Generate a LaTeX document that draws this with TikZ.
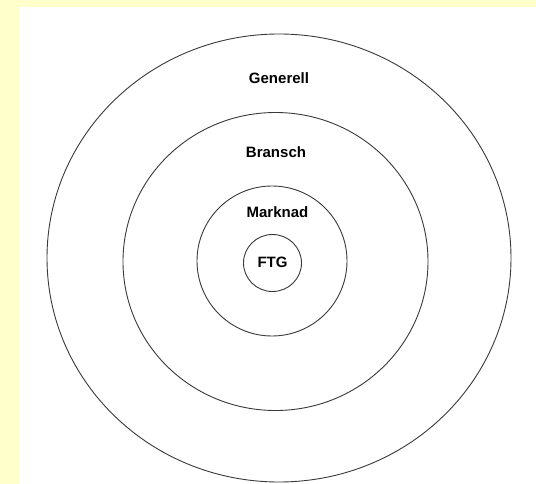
\documentclass[tikz,border=0pt]{standalone}
\usepackage{fontspec}
\setmainfont{Liberation Sans}
\definecolor{bgyellow}{HTML}{FFFFCC}
\definecolor{ringcol}{HTML}{3A3A3A}
\begin{document}
\begin{tikzpicture}[x=1pt,y=-1pt,
  ring/.style={draw=ringcol,line width=0.9pt},
  lbl/.style={font=\fontsize{15}{17}\selectfont\bfseries,inner sep=0pt}]
\useasboundingbox (0,0) rectangle (536,484);
\fill[bgyellow] (0,0) rectangle (536,484);
\fill[white] (19,7) rectangle (536,484);
\draw[ring] (279,258) ellipse [x radius=232,y radius=224];
\draw[ring] (275.5,261.5) ellipse [x radius=152.5,y radius=149];
\draw[ring] (272,261) ellipse [x radius=75,y radius=75];
\draw[ring] (272.5,263) ellipse [x radius=29,y radius=28.5];
\node[lbl] (generell) at (279,78) {Generell};
\node[lbl] (bransch) at (276,152) {Bransch};
\node[lbl] (marknad) at (277.5,212) {Marknad};
\node[lbl] (ftg) at (272.5,262) {FTG};
\end{tikzpicture}
\end{document}
